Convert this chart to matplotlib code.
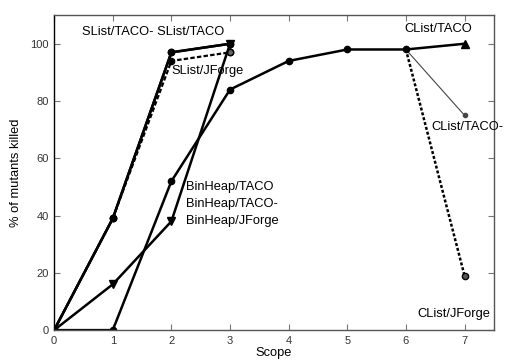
import numpy as np
import matplotlib
matplotlib.use('Agg')
import matplotlib.pyplot as plt

plt.rcParams['font.family'] = ['Liberation Sans', 'DejaVu Sans']

# scope values
slist_x = [0, 1, 2, 3]
slist_taco = [0, 39, 97, 100]
slist_taco_minus = [0, 39, 97, 100]
slist_jforge = [0, 39, 94, 97]

binheap_x = [0, 1, 2, 3]
binheap_taco = [0, 16, 38, 100]

clist_x = [0, 1, 2, 3, 4, 5, 6, 7]
clist_taco = [0, 0, 52, 84, 94, 98, 98, 100]
clist_taco_minus = [0, 0, 52, 84, 94, 98, 98, 75]
clist_jforge = [0, 0, 52, 84, 94, 98, 98, 19]

fig = plt.figure(figsize=(5.06, 3.6), dpi=100)
ax = fig.add_axes([0.107, 0.083, 0.869, 0.875])

# CList branches after scope 6
ax.plot(clist_x[6:], clist_taco_minus[6:], color='#444444', lw=0.8, marker='o', ms=3, markevery=[1])
ax.plot(clist_x[6:], clist_jforge[6:], color='black', lw=1.8, ls=(0, (1.2, 0.8)), marker='o', ms=4.5,
        mfc='#555555', mec='black', markevery=[1])
ax.plot(clist_x, clist_taco, color='black', lw=1.8, marker='o', ms=4.5, markevery=list(range(7)))
ax.plot(clist_x[-1:], clist_taco[-1:], color='black', marker='^', ms=5.5, ls='none')

# SList
ax.plot(slist_x, slist_jforge, color='black', lw=1.6, ls=(0, (2, 1)), marker='o', ms=4.5)
ax.plot(slist_x[-1:], slist_jforge[-1:], color='black', marker='o', ms=4.5, mfc='#666666', ls='none')
ax.plot(slist_x, slist_taco_minus, color='black', lw=1.8, marker='o', ms=4.5)
ax.plot(slist_x, slist_taco, color='black', lw=1.8, marker='o', ms=4.5)

# BinHeap
ax.plot(binheap_x, binheap_taco, color='black', lw=1.8, marker='v', ms=5.5)

# labels
fs = 9.3
ax.text(0.48, 104, 'SList/TACO- SList/TACO', fontsize=fs, va='center', ha='left')
ax.text(2.0, 90.5, 'SList/JForge', fontsize=fs, va='center', ha='left')
ax.text(2.25, 50, 'BinHeap/TACO', fontsize=fs, va='center', ha='left')
ax.text(2.25, 44, 'BinHeap/TACO-', fontsize=fs, va='center', ha='left')
ax.text(2.25, 38, 'BinHeap/JForge', fontsize=fs, va='center', ha='left')
ax.text(5.98, 105, 'CList/TACO', fontsize=fs, va='center', ha='left', clip_on=False)
ax.text(6.44, 71, 'CList/TACO-', fontsize=fs, va='center', ha='left', clip_on=False)
ax.text(6.2, 5.5, 'CList/JForge', fontsize=fs, va='center', ha='left')

ax.set_xlim(0, 7.5)
ax.set_ylim(0, 110)
ax.set_xticks(range(0, 8))
ax.set_yticks(range(0, 101, 20))
ax.tick_params(direction='in', top=True, right=True, labelright=False, labeltop=False,
               labelsize=8, labelcolor='#333333', color='#777777', length=4, pad=4)
for s in ax.spines.values():
    s.set_color('#555555')
    s.set_linewidth(1.0)
ax.spines['left'].set_color('black')
ax.set_xlabel('Scope', fontsize=fs, labelpad=1)
ax.set_ylabel('% of mutants killed', fontsize=fs, labelpad=6)

fig.savefig('out.png', dpi=100)
